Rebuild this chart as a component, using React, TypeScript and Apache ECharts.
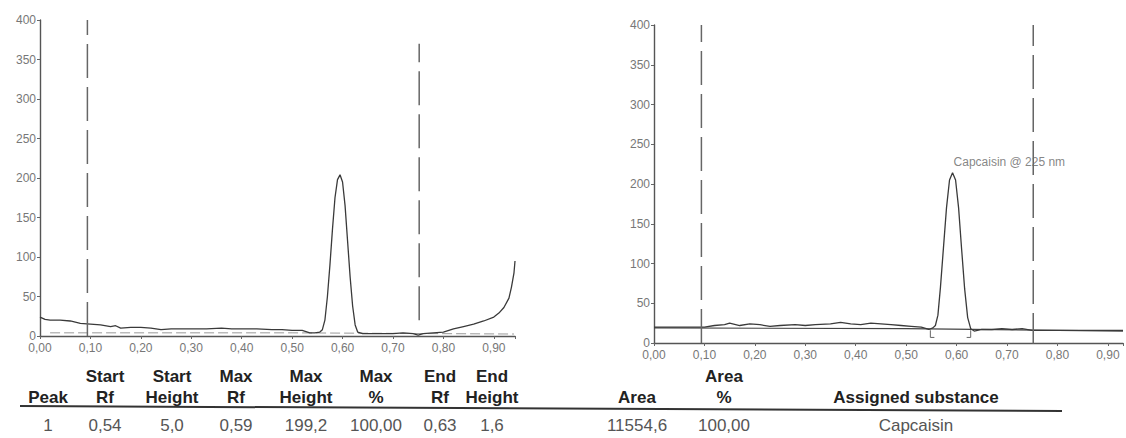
import React, { useEffect, useRef } from "react";
import * as echarts from "echarts";

// ---- data ----
const leftTrace: [number, number][] = [
  [0.0, 24], [0.01, 21], [0.02, 20], [0.04, 20], [0.06, 19], [0.08, 16], [0.1, 15], [0.12, 14],
  [0.14, 12], [0.15, 13], [0.16, 10], [0.18, 11], [0.2, 11], [0.22, 10], [0.24, 8], [0.26, 9],
  [0.28, 9], [0.3, 9], [0.33, 9], [0.36, 10], [0.38, 9], [0.4, 9], [0.43, 9], [0.46, 8],
  [0.48, 8], [0.5, 7], [0.52, 7], [0.535, 4], [0.545, 4], [0.555, 5], [0.56, 8], [0.565, 20],
  [0.57, 50], [0.575, 90], [0.58, 135], [0.585, 175], [0.59, 198], [0.595, 204], [0.6, 195],
  [0.605, 165], [0.61, 120], [0.615, 75], [0.62, 38], [0.625, 14], [0.63, 5], [0.64, 3],
  [0.66, 3], [0.68, 3], [0.7, 3], [0.72, 4], [0.74, 3], [0.75, 1], [0.76, 3], [0.78, 4],
  [0.8, 5], [0.82, 9], [0.84, 12], [0.86, 15], [0.88, 19], [0.9, 24], [0.91, 29], [0.92, 36],
  [0.93, 48], [0.935, 62], [0.94, 80], [0.942, 95],
];
const leftBaseline: [number, number][] = [[0.02, 4], [0.5, 4], [0.94, 2.5]];

const rightTrace: [number, number][] = [
  [0.0, 20], [0.1, 20], [0.12, 22], [0.14, 23], [0.15, 25], [0.17, 22], [0.19, 24], [0.21, 23],
  [0.23, 21], [0.25, 22], [0.28, 23], [0.3, 22], [0.32, 23], [0.35, 24], [0.37, 26], [0.39, 24],
  [0.41, 23], [0.43, 25], [0.45, 24], [0.47, 23], [0.49, 22], [0.51, 21], [0.53, 20], [0.545, 17],
  [0.553, 19], [0.558, 22], [0.563, 35], [0.568, 70], [0.574, 120], [0.58, 170], [0.586, 205],
  [0.592, 214], [0.598, 205], [0.604, 170], [0.61, 118], [0.616, 68], [0.622, 32], [0.628, 18],
  [0.635, 15], [0.65, 17], [0.67, 17], [0.69, 18], [0.71, 17], [0.73, 18], [0.75, 16], [0.8, 16],
  [0.85, 16], [0.9, 16], [0.93, 16],
];
const rightBaseline: [number, number][] = [[0.0, 19], [0.5, 18], [0.93, 15]];
const peakStartMark: [number, number][] = [[0.548, 16], [0.548, 7], [0.556, 7]];
const peakEndMark: [number, number][] = [[0.62, 7], [0.628, 7], [0.628, 16]];
const peakLabelPoint: [number, number][] = [[0.592, 214]];
const peakLabel = "Capcaisin @ 225 nm";

const windowLeft: [number, number][][] = [
  [[0.094, 0], [0.094, 400]],
  [[0.752, 20], [0.752, 370]],
];
const windowRight: [number, number][][] = [
  [[0.094, 0], [0.094, 400]],
  [[0.752, -5], [0.752, 400]],
];

const headerLine1 = ["", "Start", "Start", "Max", "Max", "Max", "End", "End", "", "Area", ""];
const headerLine2 = ["Peak", "Rf", "Height", "Rf", "Height", "%", "Rf", "Height", "Area", "%", "Assigned substance"];
const rowValues = ["1", "0,54", "5,0", "0,59", "199,2", "100,00", "0,63", "1,6", "11554,6", "100,00", "Capcaisin"];

// ---- layout (positions only) ----
const colX = [48, 105, 172, 236, 306, 376, 440, 492, 637, 724, 916];

const fmtX = (v: number) =>
  Math.abs(v * 10 - Math.round(v * 10)) < 1e-6 ? v.toFixed(2).replace(".", ",") : "";

const axisCommon = {
  axisLine: { show: true, lineStyle: { color: "#555", width: 1.4 } },
  axisTick: { show: true, length: 3, lineStyle: { color: "#666" } },
  splitLine: { show: false },
};

export default function App() {
  const ref = useRef<HTMLDivElement>(null);
  useEffect(() => {
    if (!ref.current) return;
    const chart = echarts.init(ref.current, undefined, { renderer: "svg" });
    const traceStyle = { color: "#3a3a3a", width: 1.3 };
    const dashStyle = { color: "#666", width: 1.5, type: [34, 9] as any };
    const lineSeries = (data: any, xi: number, style: any, z = 2) => ({
      type: "line",
      xAxisIndex: xi,
      yAxisIndex: xi,
      data,
      showSymbol: false,
      symbol: "none",
      lineStyle: style,
      z,
      silent: true,
    });

    const graphics: any[] = [];
    const hFont = 'bold 17px "Liberation Sans", Arial, sans-serif';
    const dFont = '17px "Liberation Sans", Arial, sans-serif';
    headerLine1.forEach((t, i) => {
      if (t) graphics.push({ type: "text", x: colX[i], y: 376, style: { text: t, font: hFont, fill: "#222", align: "center", verticalAlign: "middle" } });
    });
    headerLine2.forEach((t, i) => {
      graphics.push({ type: "text", x: colX[i], y: 397, style: { text: t, font: hFont, fill: "#222", align: "center", verticalAlign: "middle" } });
    });
    rowValues.forEach((t, i) => {
      graphics.push({ type: "text", x: colX[i], y: 425, style: { text: t, font: dFont, fill: "#555", align: "center", verticalAlign: "middle" } });
    });
    graphics.push({ type: "line", shape: { x1: 20, y1: 406, x2: 1062, y2: 411 }, style: { stroke: "#333", lineWidth: 2 } });

    const xLabel = { formatter: fmtX, color: "#777", fontSize: 12, margin: 6, fontFamily: "Liberation Sans" };

    chart.setOption({
      animation: false,
      backgroundColor: "#fff",
      grid: [
        { left: 40, top: 20, width: 475, height: 316 },
        { left: 654, top: 25, width: 472, height: 318 },
      ],
      xAxis: [
        { gridIndex: 0, type: "value", min: 0, max: 0.942, interval: 0.1, ...axisCommon, axisLabel: xLabel },
        { gridIndex: 1, type: "value", min: 0, max: 0.93, interval: 0.1, ...axisCommon, axisLabel: xLabel },
      ],
      yAxis: [0, 1].map((g) => ({
        gridIndex: g, type: "value", min: 0, max: 400, interval: 50, ...axisCommon,
        axisLabel: { color: "#777", fontSize: 12, margin: 4, padding: [0, 0, 6, 0], fontFamily: "Liberation Sans" },
      })),
      series: [
        lineSeries(leftBaseline, 0, { color: "#999", width: 1, type: [10, 4] }, 1),
        lineSeries(leftTrace, 0, traceStyle),
        ...windowLeft.map((d) => lineSeries(d, 0, dashStyle, 3)),
        lineSeries(rightBaseline, 1, { color: "#444", width: 1.2 }, 1),
        lineSeries(rightTrace, 1, traceStyle),
        lineSeries(peakStartMark, 1, { color: "#666", width: 1 }),
        lineSeries(peakEndMark, 1, { color: "#666", width: 1 }),
        ...windowRight.map((d) => lineSeries(d, 1, dashStyle, 3)),
        {
          type: "scatter",
          xAxisIndex: 1,
          yAxisIndex: 1,
          data: peakLabelPoint,
          symbolSize: 0,
          silent: true,
          label: {
            show: true,
            formatter: peakLabel,
            position: [1, -17],
            color: "#666",
            fontSize: 12,
            fontFamily: "Liberation Sans",
          },
        },
      ],
      graphic: graphics,
    });
    return () => chart.dispose();
  }, []);
  return <div ref={ref} style={{ position: "fixed", left: 0, top: 0, width: 1126, height: 438, background: "#fff" }} />;
}
